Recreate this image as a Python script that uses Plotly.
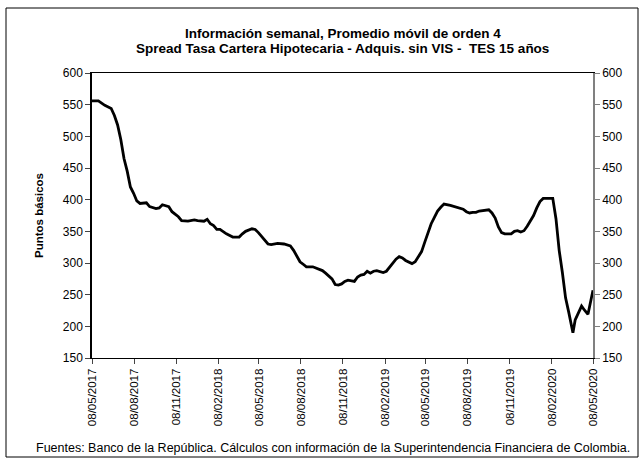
import numpy as np
import pandas as pd
import plotly.graph_objects as go

# semanas desde el 08/05/2017 y spread (puntos básicos)
semanas = [0, 2, 4, 6, 7, 8, 9, 10, 11, 12, 13, 14, 15, 17, 18, 20, 21, 22, 24, 25,
           27, 28, 30, 32, 33, 35, 36, 37, 38, 39, 40, 42, 44, 46, 47, 48, 50, 51, 52, 53,
           54, 55, 56, 58, 60, 61, 62, 63, 64, 65, 66, 67, 69, 70, 72, 73, 74, 75, 76, 77,
           78, 79, 80, 82, 83, 84, 85, 86, 87, 88, 89, 91, 92, 93, 94, 95, 96, 97, 98, 99,
           100, 101, 102, 103, 104, 105, 106, 107, 108, 109, 110, 112, 114, 115, 116, 117, 118, 119, 120, 121,
           123, 124, 125, 126, 127, 128, 129, 130, 131, 132, 133, 134, 135, 136, 137, 138, 139, 140, 141, 143,
           144, 145, 146, 147, 148, 149, 150.3, 151, 152, 153, 154, 155, 156.57]
spread = [556, 556, 549, 544, 533, 518, 495, 465, 445, 420, 410, 398, 394, 395, 389, 386, 387, 392, 389, 381,
          373, 367, 366, 368, 367, 366, 369, 362, 359, 353, 353, 346, 341, 341, 346, 350, 354, 353, 348, 342,
          335, 330, 329, 331, 330, 329, 327, 320, 310, 302, 298, 294, 294, 292, 288, 284, 280, 275, 266, 265,
          267, 271, 273, 271, 278, 281, 282, 287, 284, 287, 288, 285, 287, 293, 300, 306, 310, 308, 304, 302,
          299, 302, 310, 318, 333, 348, 362, 372, 382, 388, 393, 391, 388, 386, 385, 381, 379, 380, 380, 382,
          384, 384, 379, 371, 357, 348, 346, 346, 346, 350, 351, 349, 351, 358, 366, 375, 387, 397, 402, 402,
          402, 370, 320, 285, 245, 222, 190, 210, 222, 232, 225, 219, 257]

etiquetas = ["08/05/2017", "08/08/2017", "08/11/2017", "08/02/2018", "08/05/2018", "08/08/2018",
             "08/11/2018", "08/02/2019", "08/05/2019", "08/08/2019", "08/11/2019", "08/02/2020", "08/05/2020"]

inicio = pd.Timestamp("2017-05-08")
fechas = inicio + pd.to_timedelta(np.array(semanas) * 7, unit="D")
ticks = pd.to_datetime(etiquetas, format="%d/%m/%Y")

fuente = "Liberation Sans, Arial, sans-serif"
alto_plot = 285  # px entre y=150 y y=600


def py(pix):
    # posición vertical en px de la página -> coordenada paper
    return (358 - pix) / alto_plot


fig = go.Figure()
fig.add_trace(go.Scatter(x=fechas, y=spread, mode="lines",
                         line=dict(color="black", width=2.8), showlegend=False))
# copia invisible para mostrar el eje derecho
fig.add_trace(go.Scatter(x=fechas, y=spread, mode="lines", yaxis="y2", opacity=0,
                         hoverinfo="skip", showlegend=False))

fig.update_layout(
    width=643, height=460,
    margin=dict(l=92, r=50, t=73, b=102),
    paper_bgcolor="white", plot_bgcolor="white",
    font=dict(family=fuente, size=12, color="black"),
    xaxis=dict(type="date", range=[ticks[0], ticks[-1]], tickvals=ticks, ticktext=etiquetas,
               tickangle=-90, tickfont=dict(size=11.5), ticks="outside", ticklen=5,
               showgrid=False, zeroline=False, showline=True, linecolor="black", linewidth=1,
               mirror=True),
    yaxis=dict(range=[150, 600], dtick=50, ticks="outside", ticklen=5, showgrid=False,
               zeroline=False, showline=True, linecolor="black", linewidth=1.5,
               title=dict(text="<b>Puntos básicos</b>", font=dict(size=11.5), standoff=17)),
    yaxis2=dict(range=[150, 600], dtick=50, overlaying="y", side="right", ticks="outside",
                ticklen=5, tickcolor="#808080", showgrid=False, zeroline=False, showline=True,
                linecolor="#808080", linewidth=1.5),
    annotations=[
        dict(text="<b>Información semanal, Promedio móvil de orden 4</b>",
             xref="paper", yref="paper", x=0.5, y=py(33), xanchor="center", yanchor="middle",
             showarrow=False, font=dict(family=fuente, size=13.5, color="black")),
        dict(text="<b>Spread Tasa Cartera Hipotecaria - Adquis. sin VIS -  TES 15 años</b>",
             xref="paper", yref="paper", x=0.5, y=py(49), xanchor="center", yanchor="middle",
             showarrow=False, font=dict(family=fuente, size=13.5, color="black")),
        dict(text="Fuentes: Banco de la República. Cálculos con información de la "
                  "Superintendencia Financiera de Colombia.",
             xref="paper", yref="paper", x=(34 - 92) / 501, y=py(448),
             xanchor="left", yanchor="middle", showarrow=False,
             font=dict(family=fuente, size=12.5, color="black")),
    ],
    shapes=[dict(type="rect", xref="paper", yref="paper",
                 x0=(6 - 92) / 501, x1=(638 - 92) / 501, y0=py(457), y1=py(8),
                 line=dict(color="black", width=1))],
)

fig.write_html("out.html", config={"displayModeBar": False},
               post_script="document.body.style.margin='0px';")
